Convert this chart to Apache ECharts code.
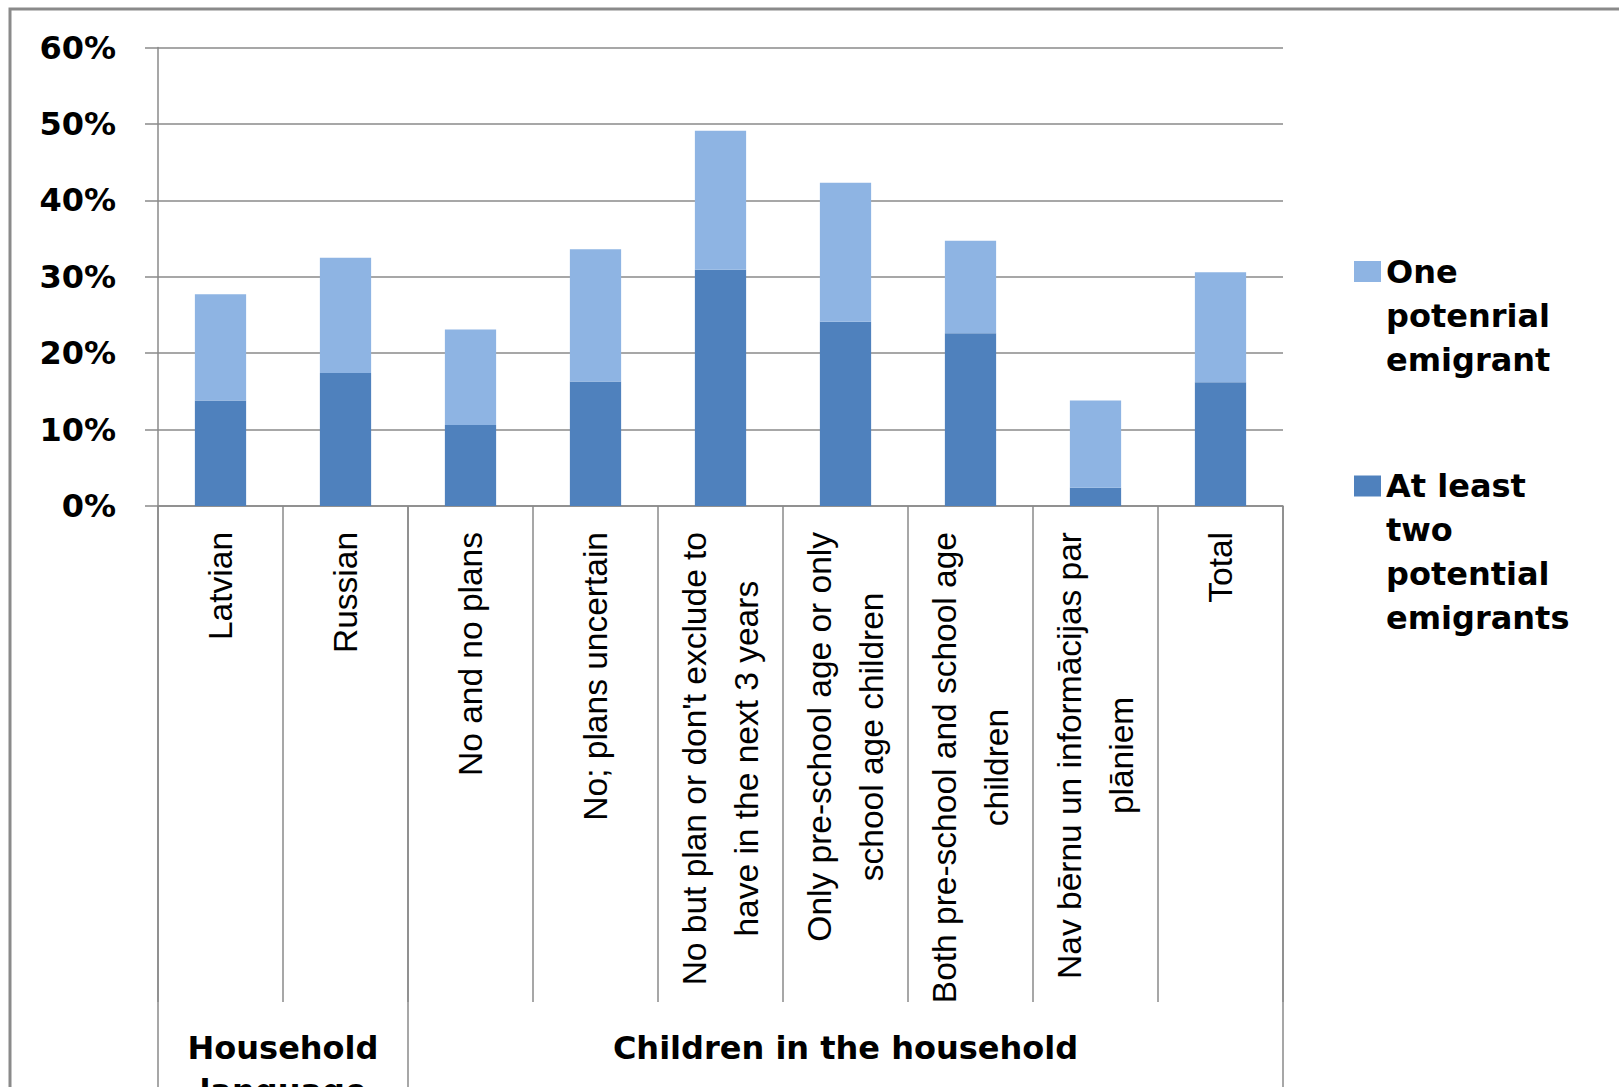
<!DOCTYPE html>
<html><head><meta charset="utf-8">
<script src="https://cdn.jsdelivr.net/npm/echarts@6/dist/echarts.min.js"></script>
<style>html,body{margin:0;padding:0;background:#fff;overflow:hidden}#c{width:1619px;height:1087px}</style>
</head><body><div id="c"></div>
<script>
// ---- data ----
const categories = [
  "Latvian",
  "Russian",
  "No and no plans",
  "No; plans uncertain",
  "No but plan or don't exclude to\nhave in the next 3 years",
  "Only pre-school age or only\nschool age children",
  "Both pre-school and school age\nchildren",
  "Nav bērnu un informācijas par\nplāniem",
  "Total"
];
const groupLabels = ["Household\nlanguage", "Children in the household"];
const groupStart = [0, 2];
const groupEnd = [1, 8];
const seriesNames = ["At least two potential emigrants", "One potenrial emigrant"];
const legendLabels = ["At least\ntwo\npotential\nemigrants", "One\npotenrial\nemigrant"];
const atLeastTwo = [13.8, 17.4, 10.6, 16.3, 30.9, 24.1, 22.6, 2.4, 16.2];
const onePotential = [13.9, 15.1, 12.5, 17.3, 18.2, 18.2, 12.1, 11.4, 14.4];
const yMin = 0, yMax = 60, yStep = 10;

// ---- chart ----
const GRAY = '#8a8a8a';
const chart = echarts.init(document.getElementById('c'), null, {renderer: 'svg'});
// legend text: blank lines before the label so that its first line sits level with the icon
const legendFmt = n => {
  const lines = legendLabels[seriesNames.indexOf(n)].split('\n');
  return Array(lines.length - 1).fill(' ').concat(lines).join('\n');
};
const legendText = {fontFamily: 'DejaVu Sans', fontWeight: 'bold', fontSize: 32, lineHeight: 44, color: '#000'};

chart.setOption({
  animation: false,
  backgroundColor: '#fff',
  grid: {left: 158, right: 336, top: 47.5, bottom: 581, outerBoundsMode: 'none', containLabel: false},
  legend: [
    {left: 1354, top: 161.5, padding: 0, orient: 'vertical', itemWidth: 27, itemHeight: 21, icon: 'rect',
     selectedMode: false, formatter: legendFmt, textStyle: legendText, data: [seriesNames[1]]},
    {left: 1354, top: 332, padding: 0, orient: 'vertical', itemWidth: 27, itemHeight: 21, icon: 'rect',
     selectedMode: false, formatter: legendFmt, textStyle: legendText, data: [seriesNames[0]]}
  ],
  xAxis: {
    type: 'category', data: categories,
    axisLine: {lineStyle: {color: GRAY, width: 1.5}},
    axisTick: {show: true, interval: 0, length: 496, lineStyle: {color: GRAY, width: 1.5}},
    axisLabel: {
      interval: 0, rotate: 90, margin: 26,
      formatter: v => v.split('\n').map(s => '{c|' + s + '}').join('\n'),
      rich: {c: {align: 'center', fontFamily: '"Liberation Sans", Arial, sans-serif', fontSize: 33.5, lineHeight: 52, color: '#000'}}
    }
  },
  yAxis: {
    type: 'value', min: yMin, max: yMax, interval: yStep,
    axisLine: {show: true, lineStyle: {color: GRAY, width: 1.5}},
    axisTick: {show: true, length: 13, lineStyle: {color: GRAY, width: 1.5}},
    splitLine: {lineStyle: {color: GRAY, width: 1.5}},
    axisLabel: {formatter: '{value}%', margin: 42, fontFamily: 'DejaVu Sans', fontWeight: 'bold', fontSize: 32, color: '#000'}
  },
  series: [
    {name: seriesNames[0], type: 'bar', stack: 's', data: atLeastTwo, barWidth: '41%', itemStyle: {color: '#4F81BD'}},
    {name: seriesNames[1], type: 'bar', stack: 's', data: onePotential, barWidth: '41%', itemStyle: {color: '#8EB4E3'}}
  ]
});

// group separators and group labels, positioned through the axis scales
const px = i => chart.convertToPixel({xAxisIndex: 0}, i);
const bw = px(1) - px(0);
const yBase = chart.convertToPixel({yAxisIndex: 0}, 0);
const graphics = [
  {type: 'rect', shape: {x: 10, y: 9, width: 3000, height: 3000}, style: {fill: 'none', stroke: GRAY, lineWidth: 3}, silent: true}
];
groupStart.forEach((s, g) => {
  const xl = px(s) - bw / 2, xr = px(groupEnd[g]) + bw / 2;
  graphics.push({type: 'line', shape: {x1: xl, y1: yBase, x2: xl, y2: 1100}, style: {stroke: GRAY, lineWidth: 1.5}, silent: true});
  if (g === groupStart.length - 1) {
    graphics.push({type: 'line', shape: {x1: xr, y1: yBase, x2: xr, y2: 1100}, style: {stroke: GRAY, lineWidth: 1.5}, silent: true});
  }
  graphics.push({type: 'text', x: (xl + xr) / 2, y: yBase + 520, silent: true,
    style: {text: groupLabels[g], align: 'center', verticalAlign: 'top', fontFamily: 'DejaVu Sans', fontWeight: 'bold', fontSize: 32, lineHeight: 43, fill: '#000'}});
});
chart.setOption({graphic: graphics});
</script>
</body></html>
